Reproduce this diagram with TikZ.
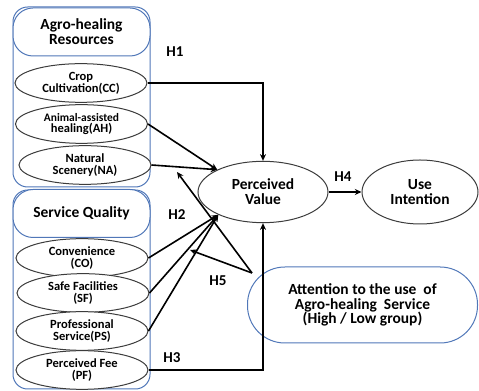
\documentclass[tikz,border=0pt]{standalone}
\usepackage{fontspec}
\setmainfont{Carlito}
\usepackage{tikz}
\usetikzlibrary{arrows.meta, positioning, calc, shapes.geometric}
\definecolor{panelblue}{HTML}{5077B8}
\definecolor{rimgray}{HTML}{3C3C3C}
\newcommand{\healpanel}[5]{%
  \draw[panelblue, line width=0.75pt, rounded corners=11pt] (13,#2) rectangle (150,#3);
  \node[panelhead] (#1) at (81.5,#4) {#5};}

\begin{document}
\begin{tikzpicture}[x=0.75pt, y=-0.75pt, >=Stealth,
  panelhead/.style={draw=panelblue, line width=0.75pt, fill=white, rounded corners=15pt,
    minimum width=102.75pt, minimum height=36pt, inner sep=0pt, align=center,
    font=\fontsize{11.6}{11.3}\selectfont\bfseries},
  factor/.style={ellipse, draw=rimgray, line width=0.75pt, fill=white, inner sep=0pt,
    minimum width=99pt, minimum height=29pt, align=center,
    font=\fontsize{9.4}{8.8}\selectfont\bfseries},
  construct/.style={ellipse, draw=rimgray, line width=0.75pt, inner sep=0pt, align=center,
    font=\fontsize{11.6}{11.3}\selectfont\bfseries},
  hyp/.style={-{Stealth[length=5pt,width=4.5pt]}, line width=1.2pt},
  hlabel/.style={font=\fontsize{11.3}{12}\selectfont\bfseries}]
  \useasboundingbox (0,0) rectangle (479,391);

  % two groups of antecedents
  \healpanel{agro}{7}{187}{32}{Agro-healing\\Resources}
  \healpanel{servq}{190}{389}{213.5}{Service Quality}
  \foreach \nm/\cx/\cy/\txt in {cc/81/83/{Crop\\Cultivation(CC)},
      ah/81.5/124/{\fontsize{8.6}{8.6}\selectfont Animal-assisted\\healing(AH)},
      na/85/165/{Natural\\Scenery(NA)}, co/82/258/{Convenience\\(CO)},
      sf/83/293/{Safe Facilities\\(SF)}, ps/82/331/{Professional\\Service(PS)},
      pf/82/370/{Perceived Fee\\(PF)}}{
    \node[factor] (\nm) at (\cx,\cy) {\txt};
  }

  % outcome side
  \node[construct, minimum width=97.5pt, minimum height=46pt] (pv) at (263,192) {Perceived\\Value};
  \node[construct, minimum width=87pt, minimum height=48pt] (ui) at (420,192) {Use\\Intention};
  \node[draw=panelblue, line width=0.75pt, rounded corners=28pt, minimum width=172.5pt,
    minimum height=57pt, inner sep=0pt, align=center,
    font=\fontsize{11.6}{10.9}\selectfont\bfseries] (att) at (362.5,305)
    {Attention to the use\ \ of\\Agro-healing\ \ Service\\(High / Low group)};

  \coordinate (pvA) at (pv.154);
  \coordinate (pvB) at (pv.207);
  \coordinate (modsrc) at (252,273);
  \coordinate (modA) at (177,172);
  \coordinate (modB) at (190,250);

  \draw[hyp] (cc.east) -| (pv.north);
  \draw[hyp] (ah.east) -- (pvA);
  \draw[hyp] (na.east) -- (pvA);
  \foreach \nm in {co, sf, ps}
    \draw[hyp] (\nm.east) -- (pvB);
  \draw[hyp] (pf.east) -| (pv.south);
  \draw[hyp] (pv.east) -- (ui.west);
  \draw[hyp] (modsrc) -- (modA);
  \draw[hyp] (modsrc) -- (modB);

  \node[hlabel] (h1) at (175,52) {H1};
  \node[hlabel] (h2) at (177,215) {H2};
  \node[hlabel] (h3) at (172,358) {H3};
  \node[hlabel] (h4) at (343,177) {H4};
  \node[hlabel] (h5) at (218,281) {H5};
\end{tikzpicture}
\end{document}
